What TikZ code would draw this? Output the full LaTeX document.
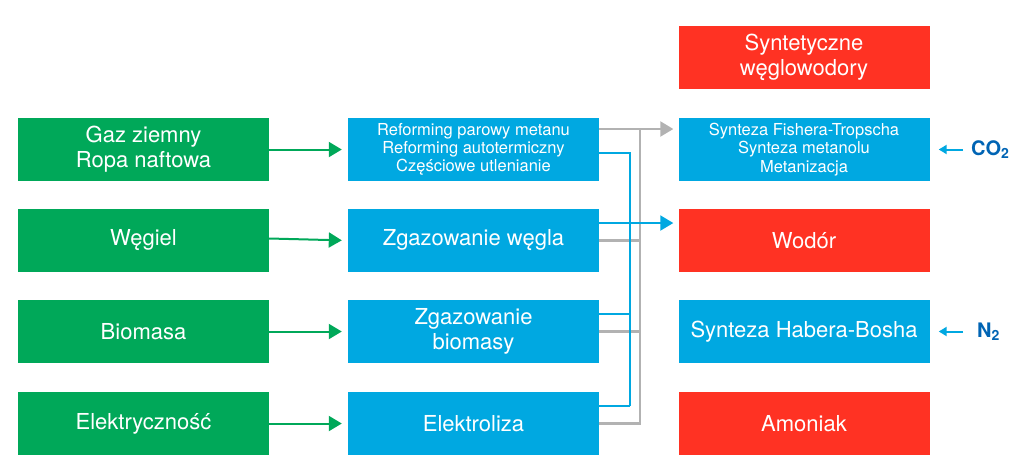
\documentclass[tikz,border=0pt]{standalone}
\usepackage{fontspec}
\setmainfont{TeX Gyre Heros}
\usetikzlibrary{arrows.meta}
\definecolor{srcgreen}{RGB}{0,168,89}
\definecolor{procblue}{RGB}{0,168,225}
\definecolor{prodred}{RGB}{255,50,35}
\definecolor{linegray}{RGB}{178,178,178}
\definecolor{gasblue}{RGB}{0,100,180}
\newcommand{\gassub}[1]{\raisebox{-0.25ex}{\fontsize{14}{14}\selectfont #1}}
\begin{document}
\begin{tikzpicture}[x=1pt,y=-1pt,
  box/.style={minimum width=251pt,minimum height=63pt,inner sep=0pt,text=white,align=center,font=\fontsize{22}{25}\selectfont},
  smallbox/.style={box,font=\fontsize{16.5}{18.3}\selectfont},
  src/.style={box,fill=srcgreen},
  proc/.style={box,fill=procblue},
  prod/.style={box,fill=prodred},
  tip/.style={-{Triangle[length=13pt,width=15pt]}},
  greenline/.style={srcgreen,line width=2pt,tip,shorten >=6pt},
  grayline/.style={linegray,line width=2.2pt},
  blueline/.style={procblue,line width=2pt},
  gas/.style={anchor=west,inner xsep=8pt,text=gasblue,font=\fontsize{20}{22}\selectfont\bfseries}]
\useasboundingbox (0,0) rectangle (1024,463);
\node[src] (g1) at (143.5,149.5) {Gaz ziemny\\Ropa naftowa};
\node[src] (g2) at (143.5,240.5) {Węgiel};
\node[src] (g3) at (143.5,331.5) {Biomasa};
\node[src] (g4) at (143.5,423.5) {Elektryczność};
\node[proc,smallbox] (m1) at (473.5,149.5) {Reforming parowy metanu\\Reforming autotermiczny\\Częściowe utlenianie};
\node[proc] (m2) at (473.5,240.5) {Zgazowanie węgla};
\node[proc] (m3) at (473.5,331.5) {Zgazowanie\\biomasy};
\node[proc] (m4) at (473.5,423.5) {Elektroliza};
\node[prod] (r0) at (804,57.5) {Syntetyczne\\węglowodory};
\node[proc,smallbox] (r1) at (804,149.5) {Synteza Fishera-Tropscha\\Synteza metanolu\\Metanizacja};
\node[prod] (r2) at (804,240.5) {Wodór};
\node[proc] (r3) at (804,331.5) {Synteza Habera-Bosha};
\node[prod] (r4) at (804,423.5) {Amoniak};
\node[gas] (co2) at (963,149.5) {CO\gassub{2}};
\node[gas,inner xsep=14pt] (n2) at (963,331.5) {N\gassub{2}};
\coordinate (grayTop) at (640,129);
\coordinate (blueTop) at (630,153);
\coordinate (blueBot) at (630,406);
\draw [greenline] (g1) -- (m1);
\draw [greenline] ([yshift=2pt]g2.east) -- (m2.west);
\draw [greenline] (g3) -- (m3);
\draw [greenline] (g4) -- (m4);
\draw [grayline] (m2.east) -| (grayTop);
\draw [grayline] (m3.east) -| (grayTop);
\draw [grayline] (m4.east) -| (grayTop);
\draw [grayline,tip,shorten >=5pt] (m1.east |- grayTop) -- (r1.west |- grayTop);
\draw [blueline] ([yshift=-3.5pt]m1.east) -- (blueTop) -- (blueBot);
\draw [blueline] ([yshift=17.5pt]m3.east) -| (blueTop);
\draw [blueline] ([yshift=17.5pt]m4.east) -- (blueBot);
\draw [blueline,tip,shorten >=5pt] ([yshift=17.5pt]m2.east) -- ([yshift=17.5pt]r2.west);
\draw [blueline,-{Triangle[length=8pt,width=9pt]},shorten >=9pt] (co2.west) -- (r1.east);
\draw [blueline,-{Triangle[length=8pt,width=9pt]},shorten >=9pt] (n2.west) -- (r3.east);
\end{tikzpicture}
\end{document}
